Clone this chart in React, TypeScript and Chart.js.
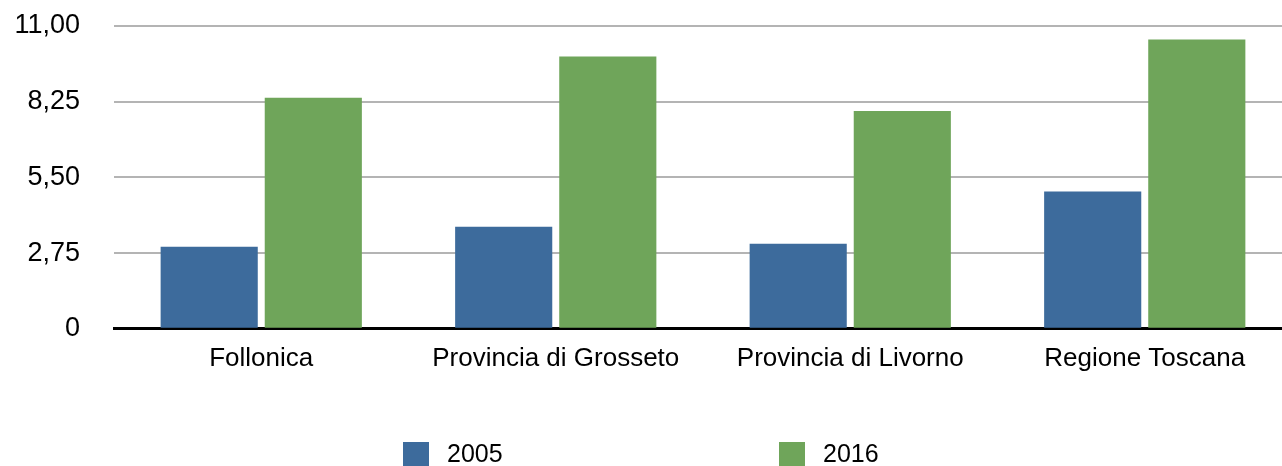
import React, { useEffect, useRef } from "react";
import { Chart, registerables } from "chart.js";

Chart.register(...registerables);

const categories = ["Follonica", "Provincia di Grosseto", "Provincia di Livorno", "Regione Toscana"];
const seriesLabels = ["2005", "2016"];
const values2005 = [2.98, 3.71, 3.09, 4.99];
const values2016 = [8.39, 9.89, 7.91, 10.51];
const yTicks = [0, 2.75, 5.5, 8.25, 11];

const BLUE = "#3d6b9c";
const GREEN = "#6fa55a";
const FONT = "'Liberation Sans', Arial, Helvetica, sans-serif";

const legendPlugin = {
  id: "wideLegend",
  afterDraw(chart: any) {
    const ctx = chart.ctx;
    const ds = chart.data.datasets;
    const xs = [403, 779];
    ctx.save();
    ctx.font = `25px ${FONT}`;
    ctx.textBaseline = "middle";
    ds.forEach((d: any, i: number) => {
      const x = xs[i];
      const y = 442;
      ctx.fillStyle = d.backgroundColor;
      ctx.fillRect(x, y, 26, 26);
      ctx.fillStyle = "#000";
      ctx.fillText(d.label, x + 44, y + 13);
    });
    ctx.restore();
  },
};

export default function App() {
  const ref = useRef<HTMLCanvasElement>(null);
  useEffect(() => {
    document.body.style.margin = "0";
    const canvas = ref.current!;
    const chart = new Chart(canvas, {
      type: "bar",
      data: {
        labels: categories,
        datasets: [
          { label: seriesLabels[0], data: values2005, backgroundColor: BLUE },
          { label: seriesLabels[1], data: values2016, backgroundColor: GREEN },
        ],
      },
      plugins: [legendPlugin],
      options: {
        responsive: false,
        animation: false,
        devicePixelRatio: 1,
        layout: { padding: { top: 26, bottom: 78, left: 0, right: 0 } },
        datasets: {
          bar: { categoryPercentage: 0.707, barPercentage: 0.933 },
        },
        plugins: {
          legend: { display: false },
          tooltip: { enabled: false },
          title: { display: false },
        },
        scales: {
          x: {
            grid: { display: false, drawTicks: false },
            border: { display: true, color: "#000", width: 3 },
            ticks: {
              color: "#000",
              font: { family: FONT, size: 26 },
              padding: 14,
              maxRotation: 0,
              autoSkip: false,
            },
          },
          y: {
            min: 0,
            max: 11,
            afterFit: (scale: any) => {
              scale.width = 114;
              scale.paddingTop = 0;
              scale.paddingBottom = 0;
            },
            afterBuildTicks: (scale: any) => {
              scale.ticks = yTicks.map((v) => ({ value: v }));
            },
            grid: {
              color: "#b4b4b4",
              lineWidth: 2,
              drawTicks: false,
            },
            border: { display: false },
            ticks: {
              color: "#000",
              font: { family: FONT, size: 27 },
              padding: 34,
              callback: (v: any) => (Number(v) === 0 ? "0" : Number(v).toFixed(2).replace(".", ",")),
            },
          },
        },
      },
    });
    return () => chart.destroy();
  }, []);
  return (
    <div style={{ width: 1282, height: 466, overflow: "hidden", position: "relative" }}>
      <canvas ref={ref} width={1292} height={466} style={{ display: "block" }} />
    </div>
  );
}
